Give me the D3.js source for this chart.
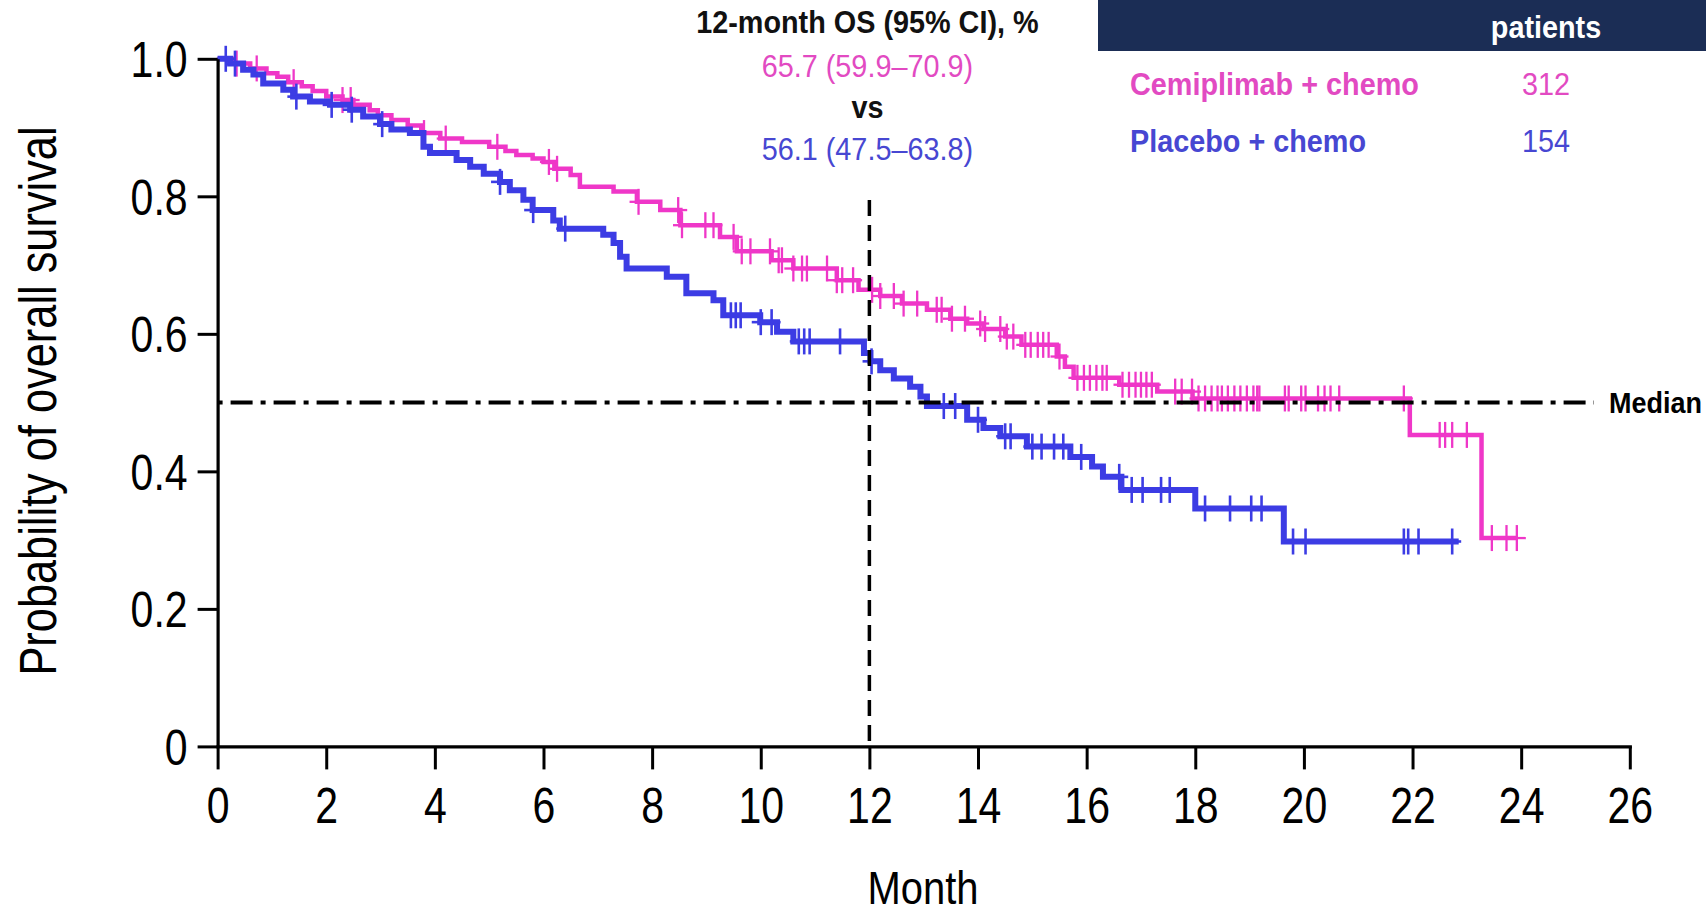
<!DOCTYPE html>
<html>
<head>
<meta charset="utf-8">
<script src="https://cdn.jsdelivr.net/npm/d3@7"></script>
<style>
  html, body { margin: 0; padding: 0; background: #fff; }
  svg { display: block; font-family: "Liberation Sans", Arial, sans-serif; }
</style>
</head>
<body>
<svg id="chart" width="1706" height="916"></svg>
<script>
// ---------------- data ----------------
const xTicks = [0, 2, 4, 6, 8, 10, 12, 14, 16, 18, 20, 22, 24, 26];
const yTicks = [0, 0.2, 0.4, 0.6, 0.8, 1.0];
const yTickLabels = ["0", "0.2", "0.4", "0.6", "0.8", "1.0"];

// Cemiplimab + chemo: step start times (months) and survival after each step
const cemiTimes = [0, 0.3, 0.6, 0.9, 1.1, 1.3, 1.55, 1.75, 2.0, 2.3, 2.5, 2.8, 2.95, 3.2, 3.5, 3.75, 4.1, 4.5, 5.0, 5.3, 5.5, 5.8, 6.0, 6.2, 6.5, 6.67, 7.29, 7.72, 8.15, 8.52, 9.25, 9.56, 10.2, 10.6, 11.4, 11.8, 12.2, 12.6, 13.06, 13.49, 13.8, 14.1, 14.5, 14.8, 15.45, 15.6, 15.76, 16.6, 17.3, 17.95, 21.95, 23.27];
const cemiSurv  = [1.0, 0.993, 0.986, 0.979, 0.974, 0.966, 0.960, 0.953, 0.945, 0.940, 0.933, 0.925, 0.918, 0.911, 0.903, 0.892, 0.884, 0.879, 0.872, 0.866, 0.860, 0.855, 0.850, 0.840, 0.831, 0.814, 0.807, 0.792, 0.780, 0.758, 0.741, 0.720, 0.707, 0.695, 0.678, 0.664, 0.655, 0.644, 0.635, 0.622, 0.615, 0.607, 0.596, 0.584, 0.567, 0.552, 0.536, 0.526, 0.516, 0.506, 0.453, 0.303];
const cemiEnd = 23.92;
const cemiCensor = [0.35, 0.72, 1.4, 2.3, 2.45, 3.8, 4.2, 5.15, 6.1, 6.25, 7.75, 8.48, 8.55, 8.98, 9.13, 9.5, 9.65, 9.81, 10.17, 10.33, 10.39, 10.6, 10.76, 10.85, 11.22, 11.4, 11.5, 11.7, 12.05, 12.2, 12.45, 12.63, 12.88, 13.24, 13.33, 13.52, 13.76, 14.04, 14.13, 14.41, 14.53, 14.65, 14.87, 14.97, 15.1, 15.2, 15.3, 15.5, 15.83, 15.95, 16.06, 16.18, 16.29, 16.37, 16.66, 16.78, 16.9, 17.0, 17.1, 17.2, 17.63, 17.75, 17.94, 18.06, 18.18, 18.3, 18.41, 18.49, 18.6, 18.72, 18.83, 18.95, 19.07, 19.14, 19.18, 19.65, 19.72, 19.95, 20.03, 20.26, 20.38, 20.49, 20.65, 21.84, 22.5, 22.6, 22.73, 23.0, 23.46, 23.73, 23.92];

// Placebo + chemo
const placTimes = [0, 0.23, 0.47, 0.66, 0.84, 1.21, 1.39, 1.7, 2.07, 2.44, 2.68, 2.99, 3.2, 3.54, 3.79, 3.91, 4.4, 4.65, 4.9, 5.2, 5.38, 5.63, 5.8, 6.18, 6.3, 7.1, 7.29, 7.41, 7.53, 8.27, 8.63, 9.13, 9.31, 9.99, 10.3, 10.6, 11.9, 12.02, 12.2, 12.45, 12.75, 12.94, 13.06, 13.8, 14.1, 14.41, 14.9, 15.7, 16.1, 16.3, 16.64, 18.0, 19.63];
const placSurv  = [1.0, 0.993, 0.984, 0.977, 0.964, 0.955, 0.945, 0.938, 0.933, 0.926, 0.916, 0.905, 0.897, 0.892, 0.872, 0.863, 0.853, 0.843, 0.833, 0.821, 0.809, 0.795, 0.780, 0.765, 0.753, 0.744, 0.732, 0.712, 0.695, 0.683, 0.659, 0.649, 0.627, 0.617, 0.603, 0.589, 0.572, 0.560, 0.547, 0.535, 0.523, 0.509, 0.495, 0.475, 0.463, 0.451, 0.436, 0.421, 0.407, 0.392, 0.373, 0.346, 0.298];
const placEnd = 22.85;
const placCensor = [0.15, 0.32, 1.45, 2.1, 2.47, 3.03, 5.2, 5.81, 6.4, 9.45, 9.54, 9.63, 10.0, 10.2, 10.7, 10.8, 10.9, 11.46, 12.04, 13.37, 13.58, 14.0, 14.5, 14.6, 15.0, 15.17, 15.4, 15.57, 15.9, 16.6, 16.83, 17.03, 17.37, 17.53, 18.18, 18.64, 19.03, 19.22, 19.8, 20.03, 21.84, 21.92, 22.11, 22.73];

const landmarkMonth = 12;
const medianLevel = 0.5;
const osHeader = "12-month OS (95% CI), %";
const osLines = ["65.7 (59.9–70.9)", "vs", "56.1 (47.5–63.8)"];
const legendHeader = "patients";
const legendNames = ["Cemiplimab + chemo", "Placebo + chemo"];
const legendCounts = [312, 154];

// ---------------- styles ----------------
const PINK = "#ef37c8", BLUE = "#3c3ce4";
const PINK_TXT = "#e24ac2", BLUE_TXT = "#4747d2";
const NAVY = "#1b2d55";

const svg = d3.select("#chart");
const x = d3.scaleLinear().domain([0, 26]).range([217.6, 1629.8]);
const y = d3.scaleLinear().domain([0, 1]).range([746.4, 58.8]);

function squeeze(sel, k) {
  sel.each(function () {
    const t = d3.select(this);
    const tx = +t.attr("x") || 0, ty = +t.attr("y") || 0;
    t.attr("x", 0).attr("y", 0).attr("transform", `translate(${tx},${ty}) scale(${k},1)`);
  });
}

function survAt(times, surv, t) {
  let s = surv[0];
  for (let i = 0; i < times.length; i++) { if (times[i] <= t) s = surv[i]; else break; }
  return s;
}

const line = d3.line().x(d => x(d[0])).y(d => y(d[1])).curve(d3.curveStepAfter);

const arms = [
  { times: cemiTimes, surv: cemiSurv, end: cemiEnd, censor: cemiCensor, color: PINK, w: 4.5, cw: 2.3 },
  { times: placTimes, surv: placSurv, end: placEnd, censor: placCensor, color: BLUE, w: 6, cw: 2.6 }
];

arms.forEach(a => {
  const pts = a.times.map((t, i) => [t, a.surv[i]]);
  pts.push([a.end, a.surv[a.surv.length - 1]]);
  svg.append("path").datum(pts).attr("d", line)
    .attr("fill", "none").attr("stroke", a.color).attr("stroke-width", a.w)
    .attr("stroke-linejoin", "miter");
  const g = svg.append("g").attr("stroke", a.color).attr("stroke-width", a.cw);
  a.censor.forEach(t => {
    const cx = x(t), cy = y(survAt(a.times, a.surv, t));
    g.append("line").attr("x1", cx).attr("x2", cx).attr("y1", cy - 13).attr("y2", cy + 13);
    g.append("line").attr("x1", cx - 9).attr("x2", cx + 9).attr("y1", cy).attr("y2", cy);
  });
});

// reference lines
svg.append("line")
  .attr("x1", x(0)).attr("x2", 1594).attr("y1", y(medianLevel)).attr("y2", y(medianLevel))
  .attr("stroke", "#000").attr("stroke-width", 4).attr("stroke-dasharray", "5,8,22,8");
svg.append("line")
  .attr("x1", x(landmarkMonth)).attr("x2", x(landmarkMonth)).attr("y1", 200).attr("y2", y(0))
  .attr("stroke", "#000").attr("stroke-width", 3.5).attr("stroke-dasharray", "16,9");

svg.append("text").attr("x", 1609).attr("y", 413).text("Median")
  .attr("font-size", 30).attr("font-weight", "bold").attr("fill", "#000")
  .call(squeeze, 0.9);

// axes
const yAxis = d3.axisLeft(y).tickValues(yTicks).tickFormat((d, i) => yTickLabels[i])
  .tickSize(20).tickSizeOuter(0).tickPadding(10);
const gy = svg.append("g").attr("transform", `translate(${x(0)},0)`).call(yAxis);
const xAxis = d3.axisBottom(x).tickValues(xTicks).tickFormat(d3.format("d"))
  .tickSize(23).tickSizeOuter(0).tickPadding(18);
const gx = svg.append("g").attr("transform", `translate(0,${y(0)})`).call(xAxis);

[gx, gy].forEach(g => {
  g.select(".domain").attr("stroke", "#000").attr("stroke-width", 3.2);
  g.selectAll(".tick line").attr("stroke", "#000").attr("stroke-width", 3);
  g.selectAll(".tick text").attr("fill", "#000").attr("font-size", 50)
    .attr("font-family", "'Liberation Sans', Arial, sans-serif");
});
gy.selectAll(".tick text").attr("dy", "0.36em");
squeeze(gx.selectAll(".tick text"), 0.82);
squeeze(gy.selectAll(".tick text"), 0.82);
gx.select(".domain").attr("stroke-linecap", "square");

// axis titles
svg.append("text").attr("text-anchor", "middle").attr("font-size", 47).attr("fill", "#000")
  .attr("transform", "translate(923,904) scale(0.85,1)").text("Month");
svg.append("text").attr("text-anchor", "middle").attr("font-size", 51).attr("fill", "#000")
  .attr("transform", "translate(56,401) rotate(-90) scale(0.85,1)")
  .text("Probability of overall survival");

// 12-month OS annotation
const cx12 = x(landmarkMonth) - 2;
svg.append("text").attr("x", cx12).attr("y", 33).attr("text-anchor", "middle")
  .attr("font-size", 32).attr("font-weight", "bold").attr("fill", "#111").text(osHeader)
  .call(squeeze, 0.9);
const osColors = [PINK_TXT, "#111", BLUE_TXT];
const osY = [77, 118, 160];
osLines.forEach((s, i) => {
  svg.append("text").attr("x", cx12).attr("y", osY[i]).attr("text-anchor", "middle")
    .attr("font-size", 32).attr("font-weight", i === 1 ? "bold" : "normal")
    .attr("fill", osColors[i]).text(s).call(squeeze, 0.9);
});

// legend table
svg.append("rect").attr("x", 1098).attr("y", 0).attr("width", 1706 - 1098).attr("height", 51).attr("fill", NAVY);
svg.append("text").attr("x", 1546).attr("y", 38).attr("text-anchor", "middle")
  .attr("font-size", 32).attr("font-weight", "bold").attr("fill", "#fff").text(legendHeader)
  .call(squeeze, 0.9);
const legColors = [PINK_TXT, BLUE_TXT];
const legY = [95, 152];
legendNames.forEach((n, i) => {
  svg.append("text").attr("x", 1130).attr("y", legY[i]).attr("font-size", 32)
    .attr("font-weight", "bold").attr("fill", legColors[i]).text(n).call(squeeze, 0.9);
  svg.append("text").attr("x", 1546).attr("y", legY[i]).attr("text-anchor", "middle")
    .attr("font-size", 32).attr("fill", legColors[i]).text(legendCounts[i]).call(squeeze, 0.9);
});
</script>
</body>
</html>
